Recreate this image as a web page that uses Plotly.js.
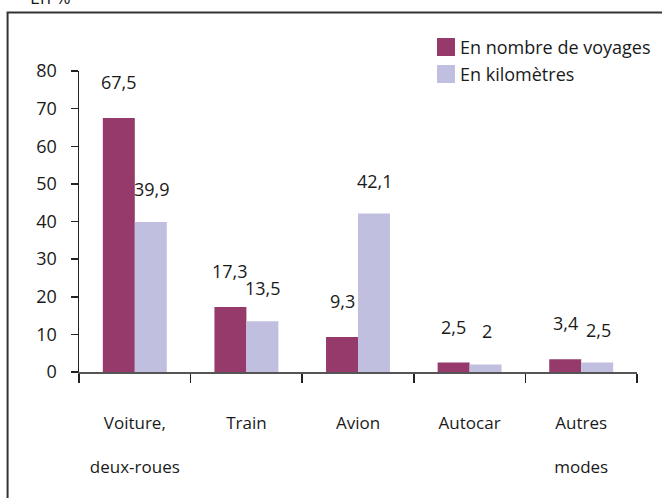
<!DOCTYPE html>
<html>
<head>
<meta charset="utf-8">
<script src="https://cdn.plot.ly/plotly-3.0.1.min.js"></script>
<style>body{margin:0;padding:0;background:#fff;} #chart{width:662px;height:498px;}</style>
</head>
<body>
<div id="chart"></div>
<script>
const categories = ["Voiture,<br><br>deux-roues", "Train", "Avion", "Autocar", "Autres<br><br>modes"];
const voyages = [67.5, 17.3, 9.3, 2.5, 3.4];
const kilometres = [39.9, 13.5, 42.1, 2, 2.5];
const seriesNames = ["En nombre de voyages", "En kilomètres"];
const yTicks = [0, 10, 20, 30, 40, 50, 60, 70, 80];

const purple = "#963A6C";
const lavender = "#C0BFDF";
const FONT = "Open Sans, sans-serif";
const TXT = "#1a1a1a";
const fmt = v => String(v).replace('.', ',');

const traces = [
  {type: "bar", x: categories, y: voyages, name: seriesNames[0], marker: {color: purple}, showlegend: false, hoverinfo: "none"},
  {type: "bar", x: categories, y: kilometres, name: seriesNames[1], marker: {color: lavender}, showlegend: false, hoverinfo: "none"}
];

const annotations = [];
categories.forEach((c, i) => {
  annotations.push({x: c, y: voyages[i], xref: "x", yref: "y", text: fmt(voyages[i]), showarrow: false,
    xshift: -16, yshift: 36, font: {family: FONT, size: 18, color: TXT}});
  annotations.push({x: c, y: kilometres[i], xref: "x", yref: "y", text: fmt(kilometres[i]), showarrow: false,
    xshift: 17, yshift: 33, font: {family: FONT, size: 18, color: TXT}});
});
// legend texts
annotations.push({x: 0.680, y: 1.0797, xref: "paper", yref: "paper", xanchor: "left", yanchor: "middle",
  text: seriesNames[0], showarrow: false, font: {family: FONT, size: 18, color: TXT}});
annotations.push({x: 0.680, y: 0.990, xref: "paper", yref: "paper", xanchor: "left", yanchor: "middle",
  text: seriesNames[1], showarrow: false, font: {family: FONT, size: 18, color: TXT}});
// partial unit label at the top (cut off as in the original)
annotations.push({x: -0.0914, y: 1.1993, xref: "paper", yref: "paper", xanchor: "left", yanchor: "bottom",
  text: "En %", showarrow: false, font: {family: FONT, size: 18, color: TXT}});

const shapes = [
  {type: "rect", xref: "paper", yref: "paper", x0: -0.128, x1: 1.1, y0: -0.5, y1: 1.194,
   line: {color: "#333", width: 2}, fillcolor: "rgba(0,0,0,0)"},
  {type: "rect", xref: "paper", yref: "paper", x0: 0.6416, x1: 0.6738, y0: 1.0498, y1: 1.1096,
   line: {width: 0}, fillcolor: purple},
  {type: "rect", xref: "paper", yref: "paper", x0: 0.6416, x1: 0.6738, y0: 0.9601, y1: 1.0199,
   line: {width: 0}, fillcolor: lavender}
];

const layout = {
  width: 662, height: 498,
  margin: {l: 79, r: 25, t: 71, b: 126},
  paper_bgcolor: "#fff", plot_bgcolor: "#fff",
  barmode: "group", bargap: 0.427, bargroupgap: 0,
  showlegend: false,
  font: {family: FONT, size: 18, color: TXT},
  xaxis: {
    type: "category", showgrid: false, zeroline: false,
    showline: true, linecolor: "#555", linewidth: 1.5,
    ticks: "outside", tickson: "boundaries", ticklen: 9, tickcolor: "#222", tickwidth: 1.5,
    ticklabelstandoff: 35,
    tickfont: {family: FONT, size: 17, color: TXT}
  },
  yaxis: {
    range: [0, 80], tickvals: yTicks, showgrid: false, zeroline: false,
    showline: true, linecolor: "#222", linewidth: 1.5,
    ticks: "outside", ticklen: 7, tickcolor: "#222", tickwidth: 1.5,
    ticklabelstandoff: 10,
    tickfont: {family: FONT, size: 18, color: TXT}
  },
  annotations: annotations,
  shapes: shapes
};

Plotly.newPlot("chart", traces, layout, {staticPlot: true, displayModeBar: false});
</script>
</body>
</html>
